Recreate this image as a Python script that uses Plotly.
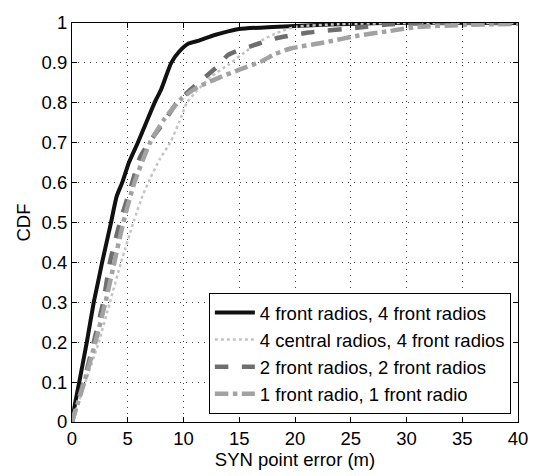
import plotly.graph_objects as go

# Data (SYN point error in m, CDF)
x_4front = [0, 0.3, 0.65, 1.33, 1.95, 2.3, 2.7, 3.5, 4.0, 4.5, 5.1, 5.9, 6.65, 7.4, 8.0, 8.9, 9.6, 10.5, 11.4, 12.8, 14.0, 15.0, 18.0, 22, 28, 40]
y_4front = [0, 0.05, 0.1, 0.2, 0.3, 0.346, 0.4, 0.5, 0.565, 0.6, 0.65, 0.7, 0.75, 0.8, 0.834, 0.9, 0.928, 0.949, 0.956, 0.97, 0.979, 0.985, 0.99, 0.995, 1.0, 1.0]

x_4central = [0, 0.6, 1.2, 2.4, 3.4, 4.4, 5.5, 6.3, 7.0, 7.9, 8.8, 9.6, 10.3, 11.1, 12.5, 14.0, 15.5, 17.0, 18.2, 20, 24, 30, 40]
y_4central = [0, 0.05, 0.1, 0.2, 0.3, 0.4, 0.5, 0.565, 0.61, 0.66, 0.7, 0.75, 0.8, 0.827, 0.866, 0.895, 0.927, 0.956, 0.973, 0.99, 0.997, 1.0, 1.0]

x_2front = [0, 0.5, 1.05, 1.95, 2.8, 3.4, 4.3, 5.4, 6.1, 6.9, 8.2, 9.4, 10.5, 12.0, 13.2, 14.0, 16.7, 18.2, 21.2, 25.6, 28.5, 33, 40]
y_2front = [0, 0.05, 0.1, 0.2, 0.3, 0.4, 0.5, 0.6, 0.663, 0.7, 0.75, 0.8, 0.83, 0.866, 0.895, 0.92, 0.948, 0.961, 0.976, 0.988, 0.997, 1.0, 1.0]

x_1front = [0, 0.55, 1.1, 2.1, 3.0, 3.8, 4.6, 5.6, 7.0, 8.3, 9.8, 11.2, 13.2, 14.9, 17.0, 18.2, 19.6, 22.6, 25.6, 28.5, 31, 35, 40]
y_1front = [0, 0.05, 0.1, 0.2, 0.3, 0.4, 0.5, 0.6, 0.7, 0.76, 0.81, 0.838, 0.863, 0.882, 0.904, 0.922, 0.936, 0.951, 0.968, 0.98, 0.99, 0.995, 0.998]

names = ["4 front radios, 4 front radios", "4 central radios, 4 front radios",
         "2 front radios, 2 front radios", "1 front radio, 1 front radio"]

x_ticks = [0, 5, 10, 15, 20, 25, 30, 35, 40]
y_ticks = [0, 0.1, 0.2, 0.3, 0.4, 0.5, 0.6, 0.7, 0.8, 0.9, 1]
y_ticklabels = ["0", "0.1", "0.2", "0.3", "0.4", "0.5", "0.6", "0.7", "0.8", "0.9", "1"]

FONT = "Liberation Sans, Arial, sans-serif"

fig = go.Figure()
fig.add_trace(go.Scatter(x=x_4front, y=y_4front, mode="lines", name=names[0],
                         line=dict(color="#111111", width=4, dash="solid", shape="spline", smoothing=0.6)))
fig.add_trace(go.Scatter(x=x_4central, y=y_4central, mode="lines", name=names[1],
                         line=dict(color="#c4c4c4", width=2.5, dash="dot", shape="spline", smoothing=0.6)))
fig.add_trace(go.Scatter(x=x_2front, y=y_2front, mode="lines", name=names[2],
                         line=dict(color="#6e6e6e", width=4.5, dash="dash", shape="spline", smoothing=0.6)))
fig.add_trace(go.Scatter(x=x_1front, y=y_1front, mode="lines", name=names[3],
                         line=dict(color="#a2a2a2", width=4.5, dash="dashdot", shape="spline", smoothing=0.6)))

axis_common = dict(
    showline=True, linecolor="black", linewidth=1, mirror="ticks",
    ticks="inside", ticklen=5, tickcolor="black",
    showgrid=True, gridcolor="#444444", gridwidth=1, griddash="1px,5px",
    zeroline=False,
    tickfont=dict(family=FONT, size=18.5, color="black"),
)

fig.update_xaxes(range=[0, 40], tickvals=x_ticks,
                 title=dict(text="SYN point error (m)", standoff=0,
                            font=dict(family=FONT, size=18.5, color="black")),
                 **axis_common)
fig.update_yaxes(range=[0, 1], tickvals=y_ticks, ticktext=y_ticklabels,
                 title=dict(text="CDF", standoff=6,
                            font=dict(family=FONT, size=18.5, color="black")),
                 **axis_common)

fig.update_layout(
    width=540, height=476,
    margin=dict(l=72, r=18, t=12, b=54),
    paper_bgcolor="white", plot_bgcolor="white",
    showlegend=True,
    legend=dict(x=0.984, y=0.02, xanchor="right", yanchor="bottom",
                bgcolor="white", bordercolor="black", borderwidth=1,
                font=dict(family=FONT, size=18.5, color="black"),
                tracegroupgap=0, itemwidth=40),
)

fig.write_html("out.html")
